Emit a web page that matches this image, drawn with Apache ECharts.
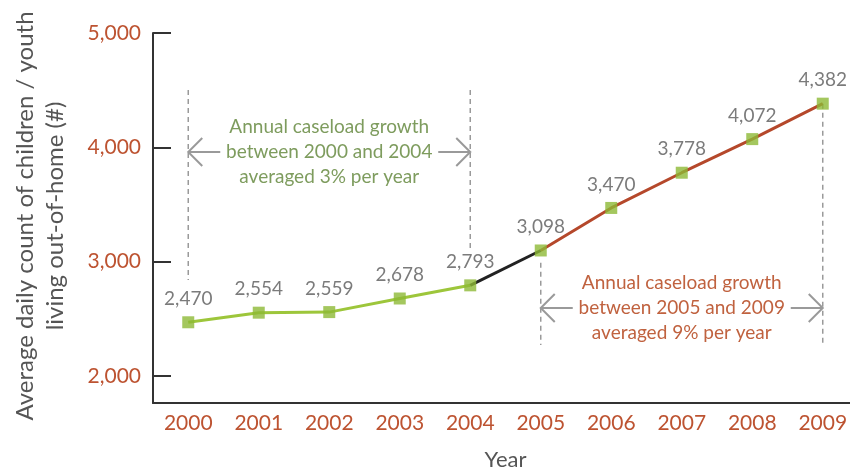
<!DOCTYPE html>
<html>
<head>
<meta charset="utf-8" />
<script src="https://cdn.jsdelivr.net/npm/echarts@6/dist/echarts.min.js"></script>
<title>Out-of-home caseload</title>
<style>
  html, body { margin: 0; padding: 0; background: #fff; }
  #chart { width: 850px; height: 472px; }
</style>
</head>
<body>
<div id="chart"></div>
<script>
// data
var years = ['2000', '2001', '2002', '2003', '2004', '2005', '2006', '2007', '2008', '2009'];
var counts = [2470, 2554, 2559, 2678, 2793, 3098, 3470, 3778, 4072, 4382];
var yTicks = [2000, 3000, 4000, 5000];

var FONT = 'Lato';
var RUST = '#bd5331';
var GREEN_TXT = '#7e9c5e';
var GREY = '#9a9a9a';

// split the line into three colour runs
function part(from, to) {
    return counts.map(function (v, i) { return (i >= from && i <= to) ? v : '-'; });
}

var myChart = echarts.init(document.getElementById('chart'));
var option = {
    animation: false,
    grid: { left: 153, width: 705, top: 33, bottom: 69, outerBoundsMode: 'none', containLabel: false },
    xAxis: {
        type: 'category',
        data: years,
        boundaryGap: true,
        name: 'Year',
        nameLocation: 'middle',
        nameGap: 46,
        nameTextStyle: { color: '#555', fontSize: 22, fontFamily: FONT },
        axisLine: { lineStyle: { color: '#333', width: 2 } },
        axisTick: { inside: true, length: 31, interval: 0, lineStyle: { color: '#333', width: 2 } },
        axisLabel: { color: RUST, fontSize: 21, fontFamily: FONT, margin: 10, interval: 0 },
        splitLine: { show: false }
    },
    yAxis: {
        type: 'value',
        min: 1764,
        max: 5000,
        axisLine: { show: true, lineStyle: { color: '#333', width: 2 } },
        axisTick: { show: true, inside: true, length: 18, customValues: yTicks, lineStyle: { color: '#333', width: 2 } },
        axisLabel: {
            color: RUST, fontSize: 21, fontFamily: FONT, margin: 12,
            customValues: yTicks,
            formatter: function (v) { return v.toLocaleString('en-US'); }
        },
        splitLine: { show: false }
    },
    series: [
        {
            type: 'line', data: part(0, 4), showSymbol: false,
            lineStyle: { color: '#9dc63b', width: 3 }, z: 2
        },
        {
            type: 'line', data: part(4, 5), showSymbol: false,
            lineStyle: { color: '#222', width: 3 }, z: 2
        },
        {
            type: 'line', data: part(5, 9), showSymbol: false,
            lineStyle: { color: '#b5482b', width: 3 }, z: 2
        },
        {
            type: 'scatter', data: counts, symbol: 'rect', symbolSize: 12,
            itemStyle: { color: '#8db936' }, z: 5,
            label: {
                show: true, position: 'top', distance: 8,
                color: '#5a5a5a', fontSize: 19, fontFamily: FONT,
                formatter: function (p) { return p.value.toLocaleString('en-US'); }
            }
        }
    ]
};
myChart.setOption(option);

// annotations: dashed guides, arrows and notes
function px(i, v) { return myChart.convertToPixel({ xAxisIndex: 0, yAxisIndex: 0 }, [i, v]); }

var guides = [[0, 4501, 2840], [4, 4501, 3110], [5, 2990, 2271], [9, 4382, 2271]];
var notes = [
    { from: 0, to: 4, y: 3959, color: GREEN_TXT,
      text: 'Annual caseload growth\nbetween 2000 and 2004\naveraged 3% per year' },
    { from: 5, to: 9, y: 2595, color: '#c0623f',
      text: 'Annual caseload growth\nbetween 2005 and 2009\naveraged 9% per year' }
];

var g = [];
// y axis title, two centred lines
g.push({ type: 'text', x: 40, y: 216, rotation: Math.PI / 2,
    style: { text: 'Average daily count of children / youth\nliving out-of-home (#)',
             fill: '#555', fontSize: 24, fontFamily: FONT, lineHeight: 30,
             align: 'center', verticalAlign: 'middle' } });
guides.forEach(function (d) {
    var a = px(d[0], d[1]), b = px(d[0], d[2]);
    g.push({ type: 'line', shape: { x1: a[0], y1: a[1], x2: b[0], y2: b[1] },
        style: { stroke: GREY, lineWidth: 1.5, lineDash: [5, 4] } });
});
notes.forEach(function (n) {
    var l = px(n.from, n.y), r = px(n.to, n.y);
    var len = 32, arm = 14;
    var st = { stroke: GREY, lineWidth: 2, fill: null };
    g.push({ type: 'polyline', shape: { points: [[l[0] + len, l[1]], [l[0], l[1]]] }, style: st });
    g.push({ type: 'polyline', shape: { points: [[l[0] + arm, l[1] - arm], [l[0], l[1]], [l[0] + arm, l[1] + arm]] }, style: st });
    g.push({ type: 'polyline', shape: { points: [[r[0] - len, r[1]], [r[0], r[1]]] }, style: st });
    g.push({ type: 'polyline', shape: { points: [[r[0] - arm, r[1] - arm], [r[0], r[1]], [r[0] - arm, r[1] + arm]] }, style: st });
    g.push({ type: 'text', x: (l[0] + r[0]) / 2, y: l[1],
        style: { text: n.text, fill: n.color, fontSize: 19, fontFamily: FONT, lineHeight: 25,
                 align: 'center', verticalAlign: 'middle' } });
});
myChart.setOption({ graphic: g });
</script>
</body>
</html>
